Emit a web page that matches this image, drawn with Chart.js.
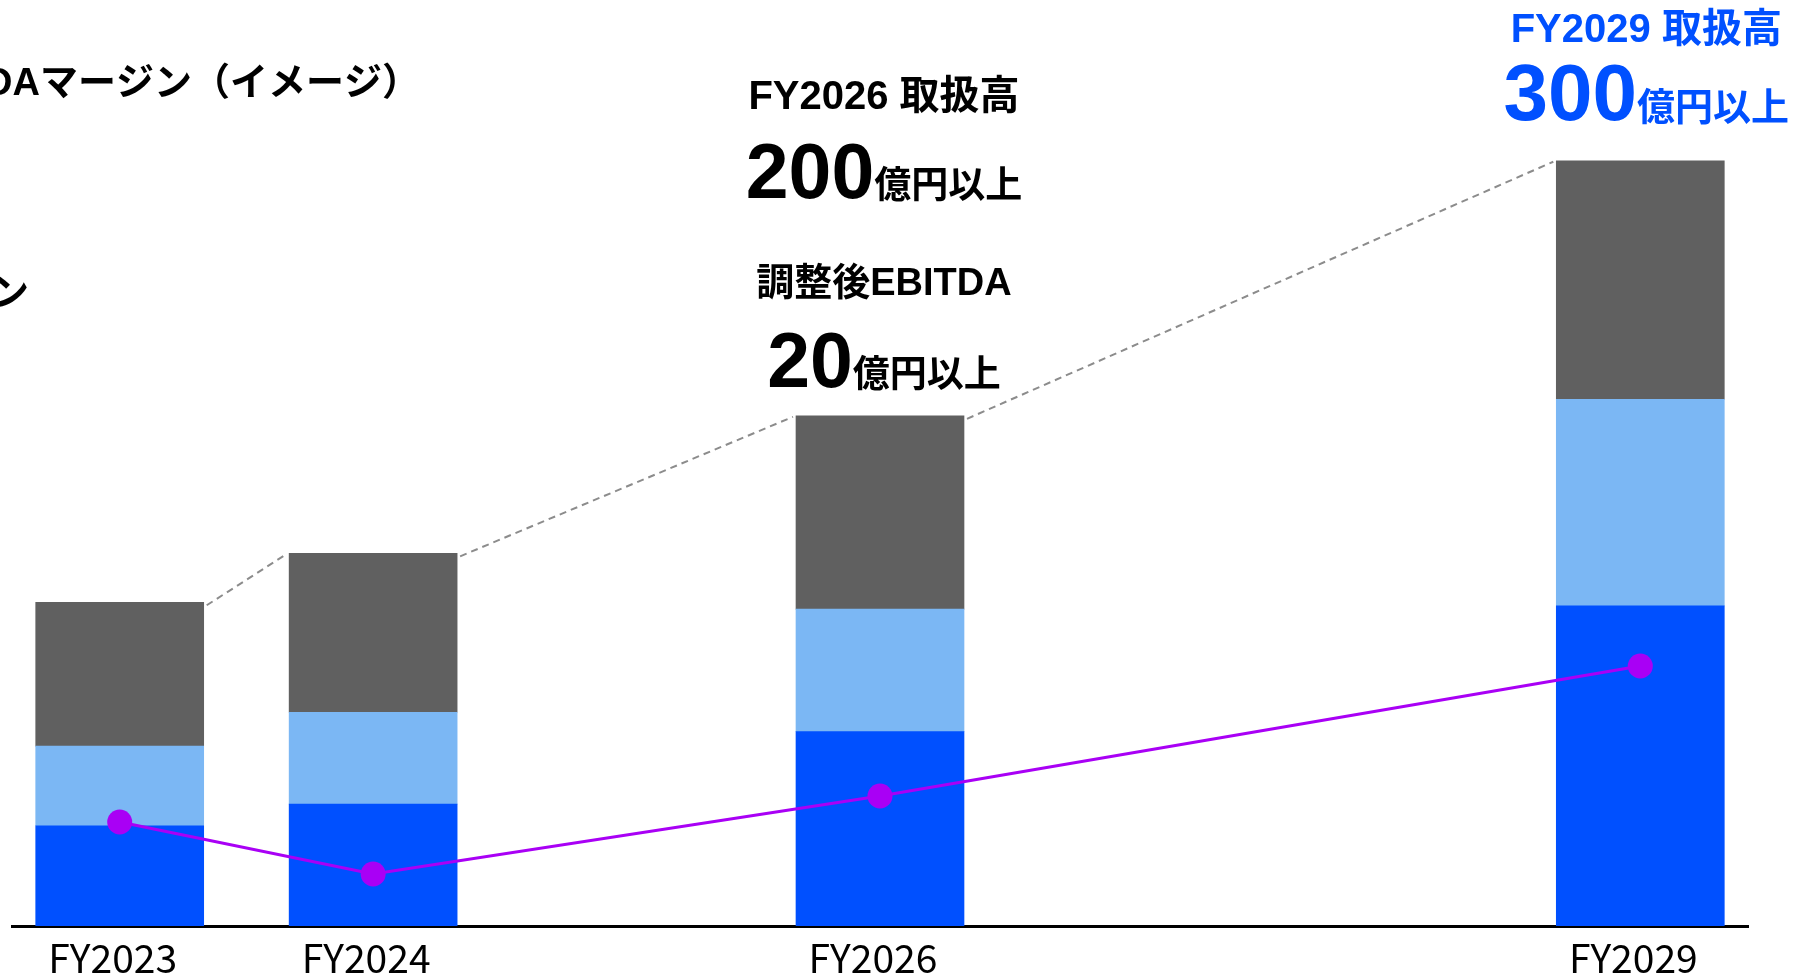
<!DOCTYPE html>
<html>
<head>
<meta charset="utf-8">
<script src="https://cdn.jsdelivr.net/npm/chart.js@4.4.1/dist/chart.umd.min.js"></script>
<style>
  html, body { margin: 0; padding: 0; background: #ffffff; }
  #wrap { width: 1795px; height: 977px; position: relative; }
</style>
</head>
<body>
<div id="wrap"><canvas id="chart"></canvas></div>
<script>
// Fiscal years on a linear time axis, with their tick labels
const fiscalYears = [2023, 2024, 2026, 2029];
const tickLabels = ['FY2023', 'FY2024', 'FY2026', 'FY2029'];

// 取扱高 stacked segments (億円), bottom to top
const baseSegment = [39.3, 47.8, 76.2, 125.5];
const middleSegment = [31.2, 36.0, 48.0, 81.0];
const topSegment = [56.4, 62.3, 75.8, 93.5];

// 調整後EBITDAマージン (%)
const ebitdaMarginPct = [8, 4, 10, 20];

const JP = '"Noto Sans CJK JP", "Noto Sans", sans-serif';
const HEAD = '"Liberation Sans", "Noto Sans CJK JP", sans-serif';
const BLUE = '#0050FF';
const LIGHT_BLUE = '#7BB7F4';
const GRAY = '#606060';
const PURPLE = '#A900F5';

const points = arr => fiscalYears.map((yr, i) => ({ x: yr, y: arr[i] }));
const totals = fiscalYears.map((_, i) => baseSegment[i] + middleSegment[i] + topSegment[i]);

// Dashed connectors from the top-right corner of each bar to the top-left of the next
const connectors = {
  id: 'connectors',
  afterDatasetsDraw(chart) {
    const bars = chart.getDatasetMeta(2).data;
    const ctx = chart.ctx;
    ctx.save();
    ctx.strokeStyle = '#8c8c8c';
    ctx.lineWidth = 2;
    ctx.setLineDash([7, 5]);
    for (let i = 0; i < bars.length - 1; i++) {
      const a = bars[i], b = bars[i + 1];
      ctx.beginPath();
      ctx.moveTo(a.x + a.width / 2 + 3, a.y + 3);
      ctx.lineTo(b.x - b.width / 2 - 3, b.y + 1);
      ctx.stroke();
    }
    ctx.restore();
  }
};

function drawPair(ctx, cx, baseline, big, bigFont, small, smallFont, color) {
  ctx.font = bigFont;
  const w1 = ctx.measureText(big).width;
  ctx.font = smallFont;
  const w2 = ctx.measureText(small).width;
  const start = cx - (w1 + w2) / 2;
  ctx.fillStyle = color;
  ctx.textAlign = 'left';
  ctx.textBaseline = 'alphabetic';
  ctx.font = bigFont;
  ctx.fillText(big, start, baseline);
  ctx.font = smallFont;
  ctx.fillText(small, start + w1, baseline);
}

function drawCentered(ctx, cx, baseline, text, font, color) {
  ctx.font = font;
  ctx.fillStyle = color;
  ctx.textAlign = 'center';
  ctx.textBaseline = 'alphabetic';
  ctx.fillText(text, cx, baseline);
}

// Target callouts and the margin caption
const callouts = {
  id: 'callouts',
  afterDraw(chart) {
    const ctx = chart.ctx;
    const xs = chart.scales.x;
    const i26 = fiscalYears.indexOf(2026);
    const i29 = fiscalYears.indexOf(2029);
    const total26 = Math.round(totals[i26]);
    const total29 = Math.round(totals[i29]);
    const ebitda26 = Math.round(totals[i26] * ebitdaMarginPct[i26] / 100);
    ctx.save();

    const c26 = xs.getPixelForValue(2026) + 4;
    drawCentered(ctx, c26, 109, tickLabels[i26] + ' 取扱高', `bold 40px ${HEAD}`, '#000');
    drawPair(ctx, c26, 198, String(total26), `bold 77px ${HEAD}`, '億円以上', `bold 37px ${JP}`, '#000');
    drawCentered(ctx, c26, 295, '調整後EBITDA', `bold 38px ${HEAD}`, '#000');
    drawPair(ctx, c26, 386.5, String(ebitda26), `bold 77px ${HEAD}`, '億円以上', `bold 37px ${JP}`, '#000');

    const c29 = xs.getPixelForValue(2029) + 6;
    drawCentered(ctx, c29, 42, tickLabels[i29] + ' 取扱高', `bold 40px ${HEAD}`, BLUE);
    drawPair(ctx, c29, 120, String(total29), `bold 80px ${HEAD}`, '億円以上', `bold 38px ${JP}`, BLUE);

    ctx.fillStyle = '#000';
    ctx.textBaseline = 'alphabetic';
    ctx.font = `bold 38px ${HEAD}`;
    ctx.textAlign = 'left';
    ctx.fillText('DAマージン（イメージ）', -15, 95);
    ctx.textAlign = 'right';
    ctx.fillText('ン', 29, 305);
    ctx.restore();
  }
};

new Chart(document.getElementById('chart'), {
  type: 'bar',
  data: {
    datasets: [
      { label: '下段', data: points(baseSegment), backgroundColor: BLUE, yAxisID: 'y', order: 2 },
      { label: '中段', data: points(middleSegment), backgroundColor: LIGHT_BLUE, yAxisID: 'y', order: 2 },
      { label: '上段', data: points(topSegment), backgroundColor: GRAY, yAxisID: 'y', order: 2 },
      {
        type: 'line', label: '調整後EBITDAマージン', data: points(ebitdaMarginPct), yAxisID: 'y2', order: 1,
        borderColor: PURPLE, borderWidth: 3, backgroundColor: PURPLE,
        pointRadius: 12.5, pointHoverRadius: 12.5, pointBorderWidth: 0, tension: 0
      }
    ]
  },
  options: {
    responsive: true,
    maintainAspectRatio: false,
    animation: false,
    devicePixelRatio: 1,
    layout: { autoPadding: false, padding: { left: 12, right: 47, top: 0, bottom: 0 } },
    datasets: { bar: { barThickness: 168 } },
    plugins: { legend: { display: false }, tooltip: { enabled: false } },
    scales: {
      x: {
        type: 'linear',
        stacked: true,
        offset: false,
        min: 2022.575,
        max: 2029.425,
        afterBuildTicks: scale => { scale.ticks = fiscalYears.map(v => ({ value: v })); },
        afterFit: scale => { scale.height = 51; },
        grid: { display: false, drawTicks: false, offset: false },
        border: { display: true, color: '#000', width: 3 },
        ticks: {
          autoSkip: false,
          maxRotation: 0,
          padding: 9,
          labelOffset: -7,
          color: '#000',
          font: { family: JP, size: 39 },
          callback: v => tickLabels[fiscalYears.indexOf(v)]
        }
      },
      y: { stacked: true, display: false, min: 0, max: 363 },
      y2: { display: false, min: 0, max: 71.23 }
    }
  },
  plugins: [connectors, callouts]
});
</script>
</body>
</html>
